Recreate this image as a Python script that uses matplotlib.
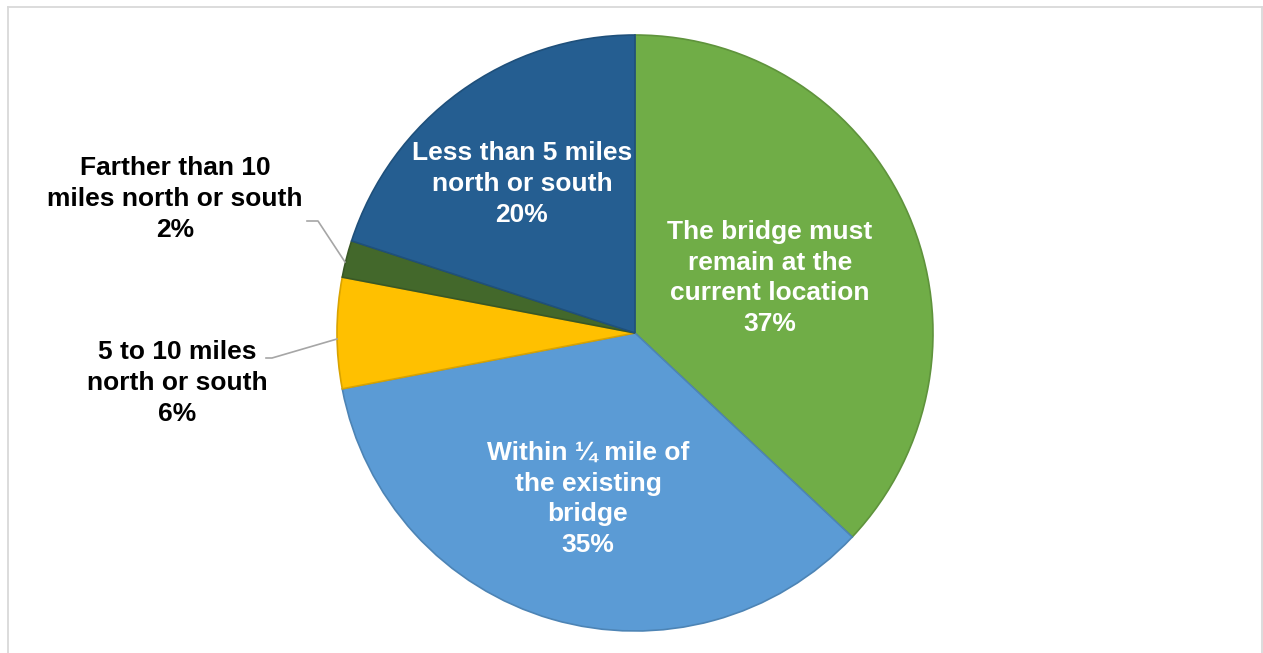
import matplotlib.pyplot as plt
from matplotlib.colors import to_rgb
from matplotlib.lines import Line2D

categories = [
    "The bridge must\nremain at the\ncurrent location",
    "Within \u00bc mile of\nthe existing\nbridge",
    "5 to 10 miles\nnorth or south",
    "Farther than 10\nmiles north or south",
    "Less than 5 miles\nnorth or south",
]
shares = [37, 35, 6, 2, 20]
colors = ["#70AD47", "#5B9BD5", "#FFC000", "#43682B", "#255E91"]

W, H = 1263, 653


def _darker(c, f=0.85):
    r, g, b = to_rgb(c)
    return (r * f, g * f, b * f)


fig = plt.figure(figsize=(W / 100, H / 100), dpi=100)
ax = fig.add_axes([0, 0, 1, 1])

cx, cy, r = 635, H - 333, 298
wedges, _ = ax.pie(
    shares,
    colors=colors,
    startangle=90,
    counterclock=False,
    center=(cx, cy),
    radius=r,
    frame=True,
    wedgeprops=dict(linewidth=1.2),
)
for w, c in zip(wedges, colors):
    w.set_edgecolor(_darker(c))
ax.set_xlim(0, W)
ax.set_ylim(0, H)
ax.set_aspect("equal")
ax.axis("off")

font = dict(family=["Liberation Sans", "DejaVu Sans"], fontsize=19,
            fontweight="bold", ha="center", va="center", linespacing=1.36)

# label centres in pixel space (x, y from top)
label_pos = [(770, 278), (588, 499), (177, 383), (175, 199), (522, 184)]
inside = [True, True, False, False, True]
for name, val, (lx, ly), ins in zip(categories, shares, label_pos, inside):
    ax.text(lx, H - ly, f"{name}\n{val}%", color="white" if ins else "black", **font)

# leader lines for the small outside labels
ax.add_line(Line2D([307, 318, 345], [H - 221, H - 221, H - 262], color="#A6A6A6", lw=1.2))
ax.add_line(Line2D([266, 272, 337], [H - 358, H - 358, H - 339], color="#A6A6A6", lw=1.2))

# chart-area border
for xs, ys in [([7.5, 7.5], [0, H - 6.5]), ([7.5, 1261.5], [H - 6.5, H - 6.5]),
               ([1261.5, 1261.5], [0, H - 6.5])]:
    ax.add_line(Line2D(xs, ys, color="#D9D9D9", lw=1.3))

fig.savefig("out.png", dpi=100)
